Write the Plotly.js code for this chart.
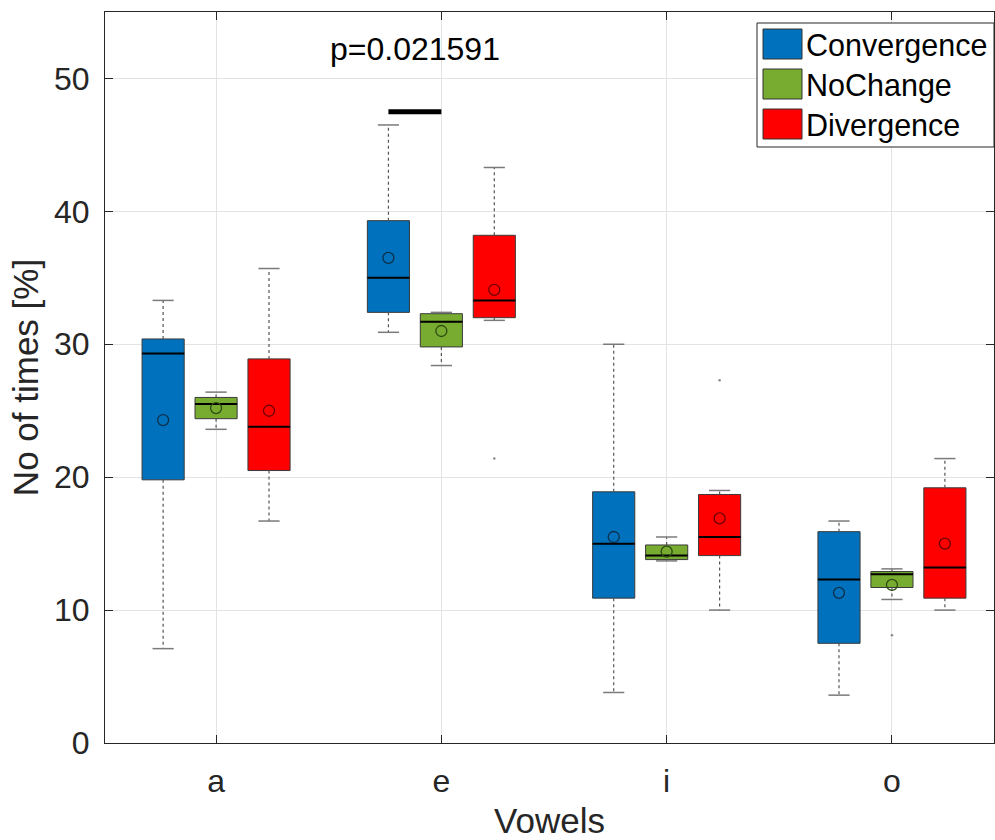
<!DOCTYPE html>
<html>
<head>
<meta charset="utf-8">
<script src="https://cdn.plot.ly/plotly-3.0.1.min.js"></script>
<style>
html,body{margin:0;padding:0;background:#fff;}
#chart{width:995px;height:840px;}
</style>
</head>
<body>
<div id="chart"></div>
<script>
// ---------------- DATA ----------------
const categories = ['a', 'e', 'i', 'o'];
const groupNames = ['Convergence', 'NoChange', 'Divergence'];

// Convergence
const convLower  = [7.1, 30.9, 3.8, 3.6];
const convQ1     = [19.8, 32.4, 10.9, 7.5];
const convMedian = [29.3, 35.0, 15.0, 12.3];
const convQ3     = [30.4, 39.3, 18.9, 15.9];
const convUpper  = [33.3, 46.5, 30.0, 16.7];
const convMean   = [24.3, 36.5, 15.5, 11.3];
const convOutCat = [];
const convOutVal = [];

// NoChange
const noChLower  = [23.6, 28.4, 13.7, 10.8];
const noChQ1     = [24.4, 29.8, 13.8, 11.7];
const noChMedian = [25.5, 31.7, 14.1, 12.7];
const noChQ3     = [26.0, 32.3, 14.9, 12.9];
const noChUpper  = [26.4, 32.4, 15.5, 13.1];
const noChMean   = [25.2, 31.0, 14.4, 11.9];
const noChOutCat = ['o'];
const noChOutVal = [8.1];

// Divergence
const divLower  = [16.7, 31.8, 10.0, 10.0];
const divQ1     = [20.5, 32.0, 14.1, 10.9];
const divMedian = [23.8, 33.3, 15.5, 13.2];
const divQ3     = [28.9, 38.2, 18.7, 19.2];
const divUpper  = [35.7, 43.3, 19.0, 21.4];
const divMean   = [25.0, 34.1, 16.9, 15.0];
const divOutCat = ['e', 'i'];
const divOutVal = [21.4, 27.3];

// significance marker
const sigCategory = 'e';
const sigFromGroup = 0;
const sigToGroup = 1;
const sigLevel = 47.5;
const sigText = 'p=0.021591';

// ---------------- STYLE ----------------
const fillColors = ['#0072BD', '#77AC30', '#FF0000'];
const meanColors = ['#0d2f4a', '#2f4a12', '#6e0000'];
const groupOffset = 0.235;   // box centre offset from category (x units)
const boxWidth = 0.187;      // full box width (x units)
const capHalf = 0.047;       // whisker cap half width
const medHalf = boxWidth / 2;
const FONT = 'Liberation Sans, Arial, Helvetica, sans-serif';
const textColor = '#262626';

const groups = [
  {lower: convLower, q1: convQ1, med: convMedian, q3: convQ3, upper: convUpper, mean: convMean, outCat: convOutCat, outVal: convOutVal},
  {lower: noChLower, q1: noChQ1, med: noChMedian, q3: noChQ3, upper: noChUpper, mean: noChMean, outCat: noChOutCat, outVal: noChOutVal},
  {lower: divLower, q1: divQ1, med: divMedian, q3: divQ3, upper: divUpper, mean: divMean, outCat: divOutCat, outVal: divOutVal}
];

const traces = [];
const catIdx = c => categories.indexOf(c);
const offsets = groupNames.map((_, k) => (k - 1) * groupOffset);

groups.forEach((g, k) => {
  const xs = categories.map((_, i) => i + offsets[k]);
  // box
  traces.push({
    type: 'box', name: groupNames[k], x: xs,
    q1: g.q1, median: g.med, q3: g.q3,
    lowerfence: g.q1, upperfence: g.q3,
    width: boxWidth, whiskerwidth: 0,
    fillcolor: fillColors[k],
    line: {color: '#3a3a3a', width: 1},
    boxpoints: false, hoverinfo: 'skip', showlegend: false
  });
  // whiskers (dotted)
  const wx = [], wy = [];
  xs.forEach((x, i) => {
    wx.push(x, x, null, x, x, null);
    wy.push(g.q3[i], g.upper[i], null, g.q1[i], g.lower[i], null);
  });
  traces.push({type: 'scatter', mode: 'lines', x: wx, y: wy,
    line: {color: '#555555', width: 1.2, dash: 'dot'}, hoverinfo: 'skip', showlegend: false});
  // caps
  const cx = [], cy = [];
  xs.forEach((x, i) => {
    cx.push(x - capHalf, x + capHalf, null, x - capHalf, x + capHalf, null);
    cy.push(g.upper[i], g.upper[i], null, g.lower[i], g.lower[i], null);
  });
  traces.push({type: 'scatter', mode: 'lines', x: cx, y: cy,
    line: {color: '#7a7a7a', width: 1.5}, hoverinfo: 'skip', showlegend: false});
  // median
  const mx = [], my = [];
  xs.forEach((x, i) => {
    mx.push(x - medHalf, x + medHalf, null);
    my.push(g.med[i], g.med[i], null);
  });
  traces.push({type: 'scatter', mode: 'lines', x: mx, y: my,
    line: {color: '#000000', width: 2}, hoverinfo: 'skip', showlegend: false});
  // mean
  traces.push({type: 'scatter', mode: 'markers', x: xs, y: g.mean,
    marker: {symbol: 'circle-open', size: 11, color: meanColors[k], line: {width: 1.3}},
    hoverinfo: 'skip', showlegend: false});
  // outliers
  if (g.outVal.length) {
    traces.push({type: 'scatter', mode: 'markers',
      x: g.outCat.map(c => catIdx(c) + offsets[k]), y: g.outVal,
      marker: {symbol: 'circle', size: 2.5, color: '#888888'},
      hoverinfo: 'skip', showlegend: false});
  }
});

// significance bar
const sx0 = catIdx(sigCategory) + offsets[sigFromGroup];
const sx1 = catIdx(sigCategory) + offsets[sigToGroup];
traces.push({type: 'scatter', mode: 'lines', x: [sx0, sx1], y: [sigLevel, sigLevel],
  line: {color: '#000000', width: 5}, hoverinfo: 'skip', showlegend: false});

// ---------------- LEGEND (custom) ----------------
const L = 105, R = 1, T = 12, B = 97, W = 995, H = 840;
const pw = W - L - R, ph = H - T - B;
const px2x = p => (p - L) / pw;
const py2y = p => (H - B - p) / ph;

const shapes = [{
  type: 'rect', xref: 'paper', yref: 'paper', layer: 'above',
  x0: px2x(757), x1: px2x(994), y0: py2y(147), y1: py2y(23),
  line: {color: '#262626', width: 1}, fillcolor: '#ffffff'
}];
const annotations = [];
groupNames.forEach((name, k) => {
  const top = 29 + 40 * k;
  shapes.push({
    type: 'rect', xref: 'paper', yref: 'paper', layer: 'above',
    x0: px2x(763), x1: px2x(802), y0: py2y(top + 30), y1: py2y(top),
    line: {color: '#333333', width: 1}, fillcolor: fillColors[k]
  });
  annotations.push({
    xref: 'paper', yref: 'paper', x: px2x(804), y: py2y(top + 16),
    xanchor: 'left', yanchor: 'middle', showarrow: false,
    text: name, font: {family: FONT, size: 30.5, color: '#000000'}
  });
});
annotations.push({
  x: (sx0 + sx1) / 2, y: sigLevel + 4.7, xref: 'x', yref: 'y',
  xanchor: 'center', yanchor: 'middle', showarrow: false,
  text: sigText, font: {family: FONT, size: 32, color: '#000000'}
});

const layout = {
  width: W, height: H,
  margin: {l: L, r: R, t: T, b: B, pad: 0},
  paper_bgcolor: '#ffffff', plot_bgcolor: '#ffffff',
  showlegend: false,
  font: {family: FONT, color: textColor},
  xaxis: {
    range: [-0.493, 3.453], tickvals: [0, 1, 2, 3], ticktext: categories,
    ticks: 'inside', ticklen: 8, tickcolor: '#262626',
    showline: true, linecolor: '#262626', linewidth: 1, mirror: 'ticks',
    showgrid: true, gridcolor: '#e3e3e3', gridwidth: 1, zeroline: false,
    tickfont: {family: FONT, size: 32, color: textColor},
    ticklabelstandoff: 10,
    automargin: false,
    title: {text: 'Vowels', font: {family: FONT, size: 35, color: textColor}, standoff: 12}
  },
  yaxis: {
    range: [0, 55], tickvals: [0, 10, 20, 30, 40, 50],
    ticks: 'inside', ticklen: 8, tickcolor: '#262626',
    showline: true, linecolor: '#262626', linewidth: 1, mirror: 'ticks',
    showgrid: true, gridcolor: '#e3e3e3', gridwidth: 1, zeroline: false,
    tickfont: {family: FONT, size: 32, color: textColor},
    ticklabelstandoff: 8,
    automargin: false,
    title: {text: 'No of times [%]', font: {family: FONT, size: 35, color: textColor}, standoff: 4}
  },
  shapes: shapes,
  annotations: annotations
};

Plotly.newPlot('chart', traces, layout, {displayModeBar: false, staticPlot: true});
</script>
</body>
</html>
